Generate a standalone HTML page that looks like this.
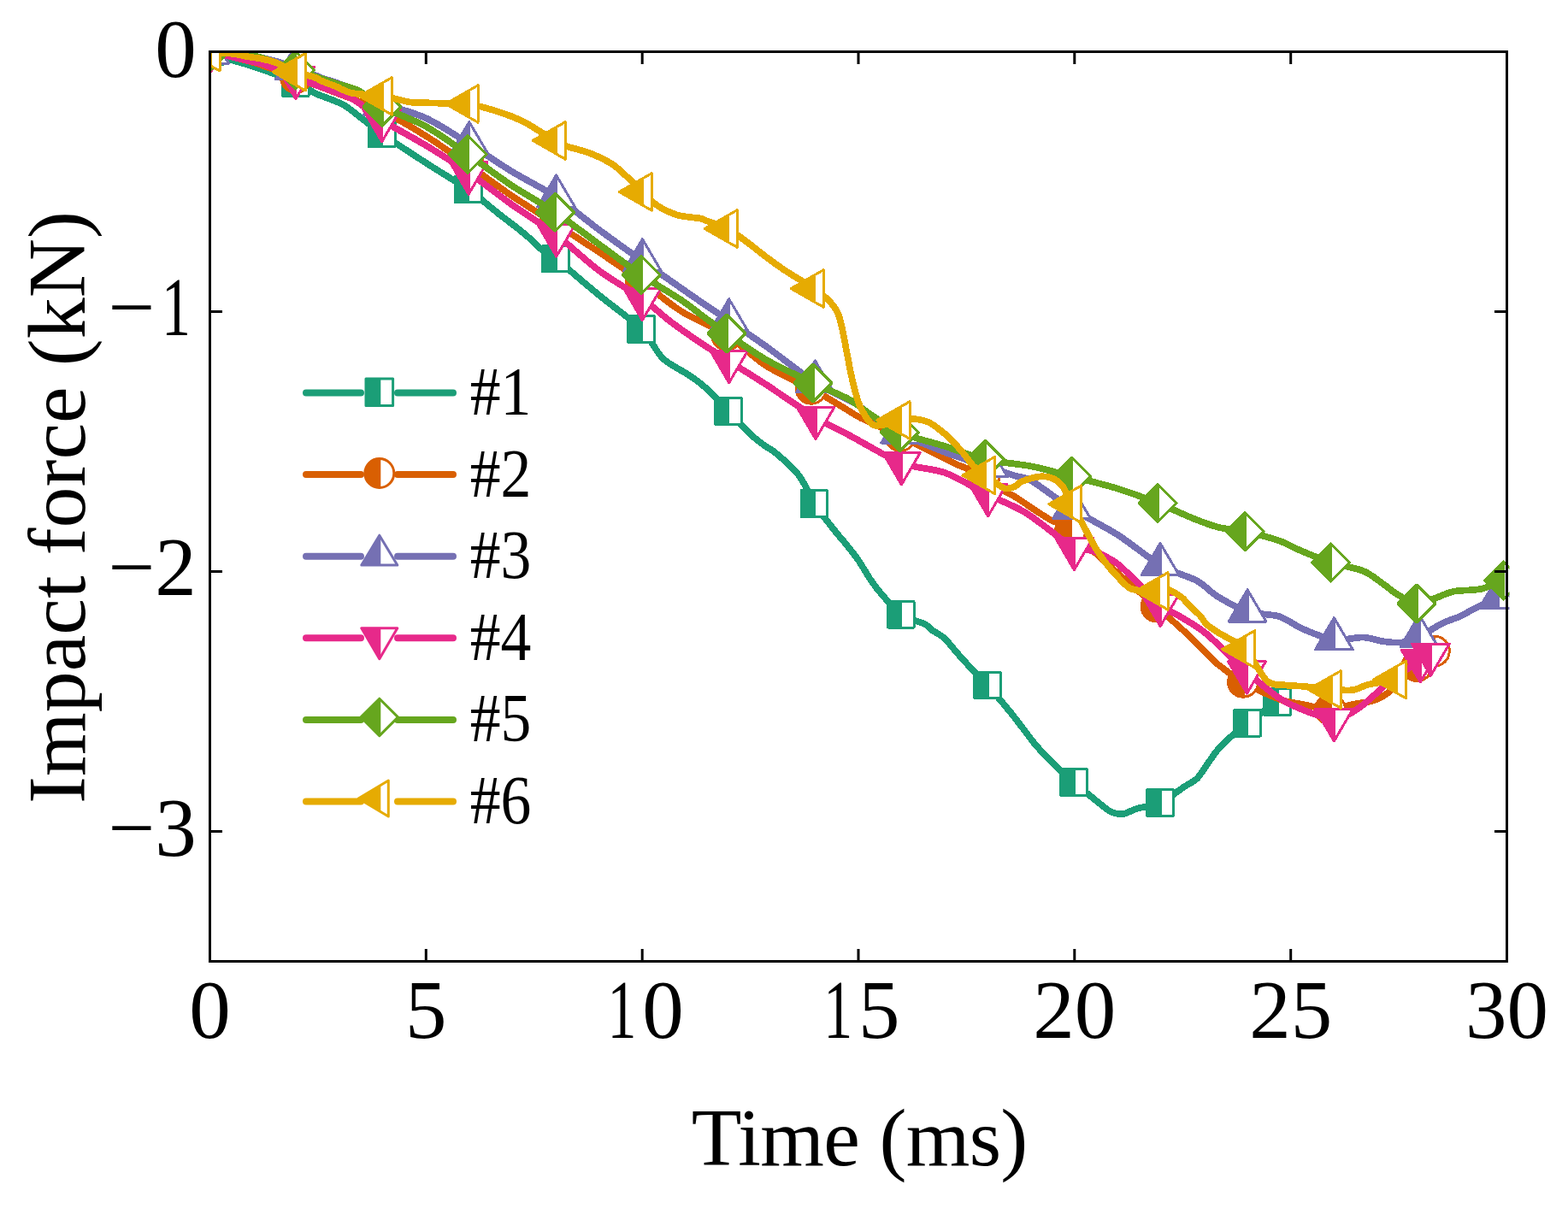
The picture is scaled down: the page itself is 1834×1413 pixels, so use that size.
<!DOCTYPE html><html><head><meta charset="utf-8"><title>Impact force vs time</title><style>html,body{margin:0;padding:0;background:#fff;}svg{display:block;}text{font-family:"Liberation Serif","Times New Roman",serif;fill:#000;}</style></head><body>
<svg width="1834" height="1413" viewBox="0 0 1834 1413">
<rect width="1834" height="1413" fill="#fff"/>
<defs><clipPath id="plot"><rect x="245.5" y="60.5" width="1520" height="1064"/></clipPath></defs>
<g clip-path="url(#plot)" shape-rendering="crispEdges">
<path d="M245.5,60.5C248.7,61.8 260.1,66.6 266.8,68.9C273.5,71.2 284.1,73.9 290,75.8C295.9,77.7 301.7,79.7 306.4,81.3C311.1,82.9 315.7,84.4 321.6,86.7C327.5,89 339.7,94 345.9,96.9C352.1,99.8 359.1,104 363,106C366.9,108 367.2,108.6 371.8,110.5C376.4,112.4 388.4,116.6 393.6,118.9C398.8,121.2 398.7,120.1 406.7,125.8C414.7,131.5 433.2,146.9 446.9,156.6C460.6,166.3 483.2,180.8 498.3,190.6C513.4,200.4 537.4,214.7 547.8,221.7C558.2,228.7 562.8,233.4 567.7,237.3C572.6,241.2 576.7,244.7 580.5,247.8C584.3,250.9 589.4,254.7 593.2,257.7C597,260.7 602.2,264.4 606,267.5C609.8,270.6 614.9,274.7 618.7,278.1C622.5,281.5 626.7,286.5 631.4,290.2C636.1,293.9 639.6,294.4 650,302.7C660.4,310.9 685.6,332.9 700.6,345.2C715.6,357.5 738.9,373.9 750.1,385C761.3,396.1 767.1,411.3 775.4,419.3C783.7,427.3 797.8,433.3 805.2,438.4C812.6,443.5 818,446.9 825,453.3C832,459.7 845.3,474 851.9,480.9C858.5,487.8 865.2,495.2 869.2,499.4C873.2,503.6 874.9,505.6 878.4,508.6C881.9,511.6 888.1,516.7 892.2,519.7C896.3,522.7 901.9,525.7 906,528.9C910.1,532.1 915.9,537.3 919.8,540.9C923.7,544.5 928.6,548.9 931.8,552.8C935,556.7 937.9,561.2 941,566.6C944.1,572 947.1,581.1 952.3,589C957.5,596.9 969.8,612.4 975.4,619.5C981,626.6 985.3,631.3 989.6,636.6C993.9,641.9 999.5,648.8 1003.8,655C1008.1,661.2 1013.8,671.5 1018,677.7C1022.2,683.9 1026.7,690 1032.1,696.1C1037.5,702.2 1046.3,713.6 1053.8,718.7C1061.3,723.8 1076.4,727.4 1081.8,730.1C1087.2,732.8 1086.6,734.6 1090,737C1093.4,739.4 1099.9,742.4 1104.2,746.2C1108.5,750 1114.2,757.7 1118.4,762.5C1122.6,767.3 1127,772.2 1132.5,778.1C1138,784 1147.6,793.2 1155,801.5C1162.4,809.8 1175.9,825.9 1182.1,833.4C1188.3,840.9 1192,846.3 1196.3,851.8C1200.6,857.3 1206.2,865.2 1210.5,870.3C1214.8,875.4 1220.4,881.4 1224.7,885.9C1229,890.4 1234.2,895.6 1238.9,900C1243.6,904.4 1248.8,909 1256,915C1263.2,921 1280,935 1286.7,940.3C1293.4,945.6 1296.6,948.6 1300.9,950.3C1305.2,952 1310.9,952.3 1315.1,951.7C1319.3,951.1 1322.9,947.9 1329.2,946C1335.5,944.1 1348.6,942.9 1357.1,939C1365.6,935.1 1379.5,924.1 1385.9,919.8C1392.4,915.5 1395.8,915 1400.1,910.6C1404.4,906.2 1410,896.4 1414.3,890.7C1418.6,885 1421.8,879 1428.5,872.3C1435.2,865.6 1449.1,853.5 1458.9,845.8C1468.7,838.1 1488.7,824.7 1494,821" fill="none" stroke="#1b9e77" stroke-width="7.7" stroke-linejoin="round" stroke-linecap="round"/>
<polygon points="230.2,45.2 260.8,45.2 260.8,75.8 230.2,75.8" fill="#fff"/><clipPath id="m1"><polygon points="230.2,45.2 260.8,45.2 260.8,75.8 230.2,75.8"/></clipPath><rect x="205.5" y="25.5" width="41.5" height="70" fill="#1b9e77" clip-path="url(#m1)"/><polygon points="230.2,45.2 260.8,45.2 260.8,75.8 230.2,75.8" fill="none" stroke="#1b9e77" stroke-width="3" stroke-linejoin="round"/>
<polygon points="330.6,81.7 361.1,81.7 361.1,112.2 330.6,112.2" fill="#fff"/><clipPath id="m2"><polygon points="330.6,81.7 361.1,81.7 361.1,112.2 330.6,112.2"/></clipPath><rect x="305.9" y="61.9" width="41.5" height="70" fill="#1b9e77" clip-path="url(#m2)"/><polygon points="330.6,81.7 361.1,81.7 361.1,112.2 330.6,112.2" fill="none" stroke="#1b9e77" stroke-width="3" stroke-linejoin="round"/>
<polygon points="431.6,141.3 462.1,141.3 462.1,171.8 431.6,171.8" fill="#fff"/><clipPath id="m3"><polygon points="431.6,141.3 462.1,141.3 462.1,171.8 431.6,171.8"/></clipPath><rect x="406.9" y="121.6" width="41.5" height="70" fill="#1b9e77" clip-path="url(#m3)"/><polygon points="431.6,141.3 462.1,141.3 462.1,171.8 431.6,171.8" fill="none" stroke="#1b9e77" stroke-width="3" stroke-linejoin="round"/>
<polygon points="532.5,206.4 563,206.4 563,236.9 532.5,236.9" fill="#fff"/><clipPath id="m4"><polygon points="532.5,206.4 563,206.4 563,236.9 532.5,236.9"/></clipPath><rect x="507.8" y="186.7" width="41.5" height="70" fill="#1b9e77" clip-path="url(#m4)"/><polygon points="532.5,206.4 563,206.4 563,236.9 532.5,236.9" fill="none" stroke="#1b9e77" stroke-width="3" stroke-linejoin="round"/>
<polygon points="634.8,287.4 665.2,287.4 665.2,317.9 634.8,317.9" fill="#fff"/><clipPath id="m5"><polygon points="634.8,287.4 665.2,287.4 665.2,317.9 634.8,317.9"/></clipPath><rect x="610" y="267.7" width="41.5" height="70" fill="#1b9e77" clip-path="url(#m5)"/><polygon points="634.8,287.4 665.2,287.4 665.2,317.9 634.8,317.9" fill="none" stroke="#1b9e77" stroke-width="3" stroke-linejoin="round"/>
<polygon points="734.9,369.8 765.4,369.8 765.4,400.2 734.9,400.2" fill="#fff"/><clipPath id="m6"><polygon points="734.9,369.8 765.4,369.8 765.4,400.2 734.9,400.2"/></clipPath><rect x="710.1" y="350" width="41.5" height="70" fill="#1b9e77" clip-path="url(#m6)"/><polygon points="734.9,369.8 765.4,369.8 765.4,400.2 734.9,400.2" fill="none" stroke="#1b9e77" stroke-width="3" stroke-linejoin="round"/>
<polygon points="836.6,465.6 867.1,465.6 867.1,496.1 836.6,496.1" fill="#fff"/><clipPath id="m7"><polygon points="836.6,465.6 867.1,465.6 867.1,496.1 836.6,496.1"/></clipPath><rect x="811.9" y="445.9" width="41.5" height="70" fill="#1b9e77" clip-path="url(#m7)"/><polygon points="836.6,465.6 867.1,465.6 867.1,496.1 836.6,496.1" fill="none" stroke="#1b9e77" stroke-width="3" stroke-linejoin="round"/>
<polygon points="937,573.8 967.5,573.8 967.5,604.2 937,604.2" fill="#fff"/><clipPath id="m8"><polygon points="937,573.8 967.5,573.8 967.5,604.2 937,604.2"/></clipPath><rect x="912.3" y="554" width="41.5" height="70" fill="#1b9e77" clip-path="url(#m8)"/><polygon points="937,573.8 967.5,573.8 967.5,604.2 937,604.2" fill="none" stroke="#1b9e77" stroke-width="3" stroke-linejoin="round"/>
<polygon points="1038.5,703.5 1069,703.5 1069,734 1038.5,734" fill="#fff"/><clipPath id="m9"><polygon points="1038.5,703.5 1069,703.5 1069,734 1038.5,734"/></clipPath><rect x="1013.8" y="683.7" width="41.5" height="70" fill="#1b9e77" clip-path="url(#m9)"/><polygon points="1038.5,703.5 1069,703.5 1069,734 1038.5,734" fill="none" stroke="#1b9e77" stroke-width="3" stroke-linejoin="round"/>
<polygon points="1139.8,786.2 1170.2,786.2 1170.2,816.8 1139.8,816.8" fill="#fff"/><clipPath id="m10"><polygon points="1139.8,786.2 1170.2,786.2 1170.2,816.8 1139.8,816.8"/></clipPath><rect x="1115" y="766.5" width="41.5" height="70" fill="#1b9e77" clip-path="url(#m10)"/><polygon points="1139.8,786.2 1170.2,786.2 1170.2,816.8 1139.8,816.8" fill="none" stroke="#1b9e77" stroke-width="3" stroke-linejoin="round"/>
<polygon points="1240.8,899.8 1271.2,899.8 1271.2,930.2 1240.8,930.2" fill="#fff"/><clipPath id="m11"><polygon points="1240.8,899.8 1271.2,899.8 1271.2,930.2 1240.8,930.2"/></clipPath><rect x="1216" y="880" width="41.5" height="70" fill="#1b9e77" clip-path="url(#m11)"/><polygon points="1240.8,899.8 1271.2,899.8 1271.2,930.2 1240.8,930.2" fill="none" stroke="#1b9e77" stroke-width="3" stroke-linejoin="round"/>
<polygon points="1341.8,923.8 1372.3,923.8 1372.3,954.2 1341.8,954.2" fill="#fff"/><clipPath id="m12"><polygon points="1341.8,923.8 1372.3,923.8 1372.3,954.2 1341.8,954.2"/></clipPath><rect x="1317.1" y="904" width="41.5" height="70" fill="#1b9e77" clip-path="url(#m12)"/><polygon points="1341.8,923.8 1372.3,923.8 1372.3,954.2 1341.8,954.2" fill="none" stroke="#1b9e77" stroke-width="3" stroke-linejoin="round"/>
<polygon points="1443.7,830.5 1474.2,830.5 1474.2,861 1443.7,861" fill="#fff"/><clipPath id="m13"><polygon points="1443.7,830.5 1474.2,830.5 1474.2,861 1443.7,861"/></clipPath><rect x="1418.9" y="810.8" width="41.5" height="70" fill="#1b9e77" clip-path="url(#m13)"/><polygon points="1443.7,830.5 1474.2,830.5 1474.2,861 1443.7,861" fill="none" stroke="#1b9e77" stroke-width="3" stroke-linejoin="round"/>
<polygon points="1478.8,805.8 1509.2,805.8 1509.2,836.2 1478.8,836.2" fill="#fff"/><clipPath id="m14"><polygon points="1478.8,805.8 1509.2,805.8 1509.2,836.2 1478.8,836.2"/></clipPath><rect x="1454" y="786" width="41.5" height="70" fill="#1b9e77" clip-path="url(#m14)"/><polygon points="1478.8,805.8 1509.2,805.8 1509.2,836.2 1478.8,836.2" fill="none" stroke="#1b9e77" stroke-width="3" stroke-linejoin="round"/>
<path d="M245.5,60.5C253.1,62.4 280.9,68.4 296,73C311.1,77.6 330.9,85.5 346,91C361.1,96.5 381.9,104.2 397,110C412.1,115.8 431.8,122.6 447,130C462.2,137.4 483.2,149.8 498.3,159.2C513.5,168.6 532.9,182.5 548,193C563.1,203.5 584,219.2 599.3,229.5C614.6,239.8 634.8,252.2 650,262C665.2,271.8 685.6,284.8 700.6,294.9C715.6,304.9 735.6,318.6 750,329C764.4,339.4 781.7,354.6 796.7,364C811.7,373.4 835.1,382.4 850,392C864.9,401.6 881.2,418.4 896,427.8C910.8,437.2 935.4,447.5 948.8,454.7C962.2,461.9 976.7,470.9 985.4,476C994.1,481.1 996.6,483.7 1006.7,488.8C1016.8,493.9 1039.2,503.4 1053,510C1066.8,516.6 1088.7,528.1 1098.5,533C1108.3,537.9 1112.7,540.3 1118.1,542.8C1123.5,545.3 1129.9,547.3 1134.8,549.7C1139.7,552.1 1144.8,555.2 1151,559C1157.2,562.8 1170.4,571.6 1176,575C1181.6,578.4 1183.4,578.6 1188.4,581.8C1193.4,584.9 1203.8,592.2 1209.6,596C1215.4,599.8 1220.9,603.5 1227.3,607.3C1233.7,611 1239.9,611.4 1252,621C1264.1,630.6 1292.8,657.7 1307.9,671C1323,684.3 1341.4,699.6 1352.6,709.4C1363.8,719.2 1374.8,729.1 1382.5,736.1C1390.2,743.1 1397.4,750.2 1403.8,756.4C1410.2,762.6 1417.6,771.4 1425.1,777.6C1432.6,783.8 1443.5,791.7 1454.1,797.7C1464.7,803.7 1485.4,813.8 1495.9,817.7C1506.4,821.6 1515.3,822.2 1524.3,824C1533.3,825.8 1547.2,830 1556,830C1564.8,830 1575.4,825.2 1582.9,823.7C1590.4,822.2 1599.8,821.7 1605.8,819.7C1611.8,817.7 1615.2,816.7 1623,810.6C1630.8,804.5 1649.3,786.4 1657.5,779C1665.7,771.6 1674.8,764.2 1677.8,761.6" fill="none" stroke="#d95f02" stroke-width="7.7" stroke-linejoin="round" stroke-linecap="round"/>
<circle cx="245.5" cy="60.5" r="17.5" fill="#fff"/><clipPath id="m15"><circle cx="245.5" cy="60.5" r="17.5"/></clipPath><rect x="205.5" y="25.5" width="41.5" height="70" fill="#d95f02" clip-path="url(#m15)"/><circle cx="245.5" cy="60.5" r="17.5" fill="none" stroke="#d95f02" stroke-width="3" stroke-linejoin="round"/>
<circle cx="346" cy="91" r="17.5" fill="#fff"/><clipPath id="m16"><circle cx="346" cy="91" r="17.5"/></clipPath><rect x="306" y="56" width="41.5" height="70" fill="#d95f02" clip-path="url(#m16)"/><circle cx="346" cy="91" r="17.5" fill="none" stroke="#d95f02" stroke-width="3" stroke-linejoin="round"/>
<circle cx="447" cy="130" r="17.5" fill="#fff"/><clipPath id="m17"><circle cx="447" cy="130" r="17.5"/></clipPath><rect x="407" y="95" width="41.5" height="70" fill="#d95f02" clip-path="url(#m17)"/><circle cx="447" cy="130" r="17.5" fill="none" stroke="#d95f02" stroke-width="3" stroke-linejoin="round"/>
<circle cx="548" cy="193" r="17.5" fill="#fff"/><clipPath id="m18"><circle cx="548" cy="193" r="17.5"/></clipPath><rect x="508" y="158" width="41.5" height="70" fill="#d95f02" clip-path="url(#m18)"/><circle cx="548" cy="193" r="17.5" fill="none" stroke="#d95f02" stroke-width="3" stroke-linejoin="round"/>
<circle cx="649" cy="262" r="17.5" fill="#fff"/><clipPath id="m19"><circle cx="649" cy="262" r="17.5"/></clipPath><rect x="609" y="227" width="41.5" height="70" fill="#d95f02" clip-path="url(#m19)"/><circle cx="649" cy="262" r="17.5" fill="none" stroke="#d95f02" stroke-width="3" stroke-linejoin="round"/>
<circle cx="750" cy="329" r="17.5" fill="#fff"/><clipPath id="m20"><circle cx="750" cy="329" r="17.5"/></clipPath><rect x="710" y="294" width="41.5" height="70" fill="#d95f02" clip-path="url(#m20)"/><circle cx="750" cy="329" r="17.5" fill="none" stroke="#d95f02" stroke-width="3" stroke-linejoin="round"/>
<circle cx="850" cy="392" r="17.5" fill="#fff"/><clipPath id="m21"><circle cx="850" cy="392" r="17.5"/></clipPath><rect x="810" y="357" width="41.5" height="70" fill="#d95f02" clip-path="url(#m21)"/><circle cx="850" cy="392" r="17.5" fill="none" stroke="#d95f02" stroke-width="3" stroke-linejoin="round"/>
<circle cx="948.8" cy="454.7" r="17.5" fill="#fff"/><clipPath id="m22"><circle cx="948.8" cy="454.7" r="17.5"/></clipPath><rect x="908.8" y="419.7" width="41.5" height="70" fill="#d95f02" clip-path="url(#m22)"/><circle cx="948.8" cy="454.7" r="17.5" fill="none" stroke="#d95f02" stroke-width="3" stroke-linejoin="round"/>
<circle cx="1053" cy="510" r="17.5" fill="#fff"/><clipPath id="m23"><circle cx="1053" cy="510" r="17.5"/></clipPath><rect x="1013" y="475" width="41.5" height="70" fill="#d95f02" clip-path="url(#m23)"/><circle cx="1053" cy="510" r="17.5" fill="none" stroke="#d95f02" stroke-width="3" stroke-linejoin="round"/>
<circle cx="1151" cy="559" r="17.5" fill="#fff"/><clipPath id="m24"><circle cx="1151" cy="559" r="17.5"/></clipPath><rect x="1111" y="524" width="41.5" height="70" fill="#d95f02" clip-path="url(#m24)"/><circle cx="1151" cy="559" r="17.5" fill="none" stroke="#d95f02" stroke-width="3" stroke-linejoin="round"/>
<circle cx="1252" cy="621" r="17.5" fill="#fff"/><clipPath id="m25"><circle cx="1252" cy="621" r="17.5"/></clipPath><rect x="1212" y="586" width="41.5" height="70" fill="#d95f02" clip-path="url(#m25)"/><circle cx="1252" cy="621" r="17.5" fill="none" stroke="#d95f02" stroke-width="3" stroke-linejoin="round"/>
<circle cx="1352.6" cy="709.4" r="17.5" fill="#fff"/><clipPath id="m26"><circle cx="1352.6" cy="709.4" r="17.5"/></clipPath><rect x="1312.6" y="674.4" width="41.5" height="70" fill="#d95f02" clip-path="url(#m26)"/><circle cx="1352.6" cy="709.4" r="17.5" fill="none" stroke="#d95f02" stroke-width="3" stroke-linejoin="round"/>
<circle cx="1454.1" cy="797.7" r="17.5" fill="#fff"/><clipPath id="m27"><circle cx="1454.1" cy="797.7" r="17.5"/></clipPath><rect x="1414.1" y="762.7" width="41.5" height="70" fill="#d95f02" clip-path="url(#m27)"/><circle cx="1454.1" cy="797.7" r="17.5" fill="none" stroke="#d95f02" stroke-width="3" stroke-linejoin="round"/>
<circle cx="1556" cy="830" r="17.5" fill="#fff"/><clipPath id="m28"><circle cx="1556" cy="830" r="17.5"/></clipPath><rect x="1516" y="795" width="41.5" height="70" fill="#d95f02" clip-path="url(#m28)"/><circle cx="1556" cy="830" r="17.5" fill="none" stroke="#d95f02" stroke-width="3" stroke-linejoin="round"/>
<circle cx="1657.5" cy="779" r="17.5" fill="#fff"/><clipPath id="m29"><circle cx="1657.5" cy="779" r="17.5"/></clipPath><rect x="1617.5" y="744" width="41.5" height="70" fill="#d95f02" clip-path="url(#m29)"/><circle cx="1657.5" cy="779" r="17.5" fill="none" stroke="#d95f02" stroke-width="3" stroke-linejoin="round"/>
<circle cx="1677.8" cy="761.6" r="17.5" fill="#fff"/><clipPath id="m30"><circle cx="1677.8" cy="761.6" r="17.5"/></clipPath><rect x="1637.8" y="726.6" width="41.5" height="70" fill="#d95f02" clip-path="url(#m30)"/><circle cx="1677.8" cy="761.6" r="17.5" fill="none" stroke="#d95f02" stroke-width="3" stroke-linejoin="round"/>
<path d="M245.5,60.5C253.7,61.4 287,64.4 300,66.5C313,68.6 325.3,72.3 332,74.5C338.7,76.7 339,79 344.5,81C350,83 363.7,86.5 368.5,88C373.3,89.5 372.4,89.9 376.2,91.2C380,92.5 387.1,94.6 393.6,96.9C400.1,99.2 415,104.3 419.8,106.5C424.6,108.7 421.7,109.1 425.8,111.3C429.9,113.5 436.1,117 447,121C457.9,125 483,131.1 498.3,138.2C513.6,145.3 533.6,158.8 548.8,168.2C563.9,177.6 584,191.7 599.3,201C614.6,210.3 635.4,220.3 650.6,230.5C665.8,240.7 685.5,257.5 700.6,268.7C715.7,279.9 734.9,293.6 751.4,305.3C767.9,317 795.7,336.5 810.9,347C826.1,357.5 839.9,366.6 852.7,375.3C865.5,384 880.9,394.3 896,405.1C911.1,415.9 937.8,437.4 953.4,447.4C969,457.4 989.9,465.9 1000,471.8C1010.1,477.7 1013,481.8 1020.9,487C1028.8,492.2 1040.1,500.2 1052.7,506.5C1065.3,512.8 1089.6,522.9 1105.2,528.9C1120.8,534.9 1144.3,542.3 1156.5,546.4C1168.7,550.5 1179.3,554 1186.8,556.4C1194.3,558.8 1196.3,556.6 1206.3,562.4C1216.3,568.2 1238.4,585.5 1253.6,595C1268.8,604.5 1292.4,616.1 1307.9,626C1323.4,635.9 1343.8,653.2 1357.1,661C1370.4,668.8 1389,674.1 1396.7,677.7C1404.4,681.3 1404.2,682.2 1408.5,685.3C1412.8,688.4 1417.5,693.8 1425.1,698.3C1432.7,702.8 1448.5,712.1 1459.1,715.5C1469.7,718.9 1486.1,717.9 1495.9,721C1505.7,724.1 1514.6,731.8 1524.3,735.9C1534,740 1549.9,746.9 1560.4,748.3C1570.9,749.7 1585.9,745.2 1594.4,745.5C1602.9,745.8 1610.4,749.3 1617.3,750.2C1624.2,751.1 1633.8,752.2 1640.2,751.4C1646.6,750.6 1653.1,748.3 1660,745C1666.9,741.7 1678.7,733.3 1686,729.6C1693.3,725.9 1703,723.2 1708.9,720.5C1714.8,717.8 1719,714.4 1725.5,711.3C1732,708.2 1748.3,701.4 1752.3,699.6" fill="none" stroke="#7570b3" stroke-width="7.7" stroke-linejoin="round" stroke-linecap="round"/>
<polygon points="245.5,37.1 267.4,74.2 223.6,74.2" fill="#fff"/><clipPath id="m31"><polygon points="245.5,37.1 267.4,74.2 223.6,74.2"/></clipPath><rect x="205.5" y="27.7" width="41.5" height="70" fill="#7570b3" clip-path="url(#m31)"/><polygon points="245.5,37.1 267.4,74.2 223.6,74.2" fill="none" stroke="#7570b3" stroke-width="3" stroke-linejoin="round"/>
<polygon points="344.5,55.4 366.4,92.5 322.6,92.5" fill="#fff"/><clipPath id="m32"><polygon points="344.5,55.4 366.4,92.5 322.6,92.5"/></clipPath><rect x="304.5" y="46" width="41.5" height="70" fill="#7570b3" clip-path="url(#m32)"/><polygon points="344.5,55.4 366.4,92.5 322.6,92.5" fill="none" stroke="#7570b3" stroke-width="3" stroke-linejoin="round"/>
<polygon points="447,97.4 468.9,134.5 425.1,134.5" fill="#fff"/><clipPath id="m33"><polygon points="447,97.4 468.9,134.5 425.1,134.5"/></clipPath><rect x="407" y="88" width="41.5" height="70" fill="#7570b3" clip-path="url(#m33)"/><polygon points="447,97.4 468.9,134.5 425.1,134.5" fill="none" stroke="#7570b3" stroke-width="3" stroke-linejoin="round"/>
<polygon points="548.8,142.6 570.7,179.7 526.9,179.7" fill="#fff"/><clipPath id="m34"><polygon points="548.8,142.6 570.7,179.7 526.9,179.7"/></clipPath><rect x="508.8" y="133.2" width="41.5" height="70" fill="#7570b3" clip-path="url(#m34)"/><polygon points="548.8,142.6 570.7,179.7 526.9,179.7" fill="none" stroke="#7570b3" stroke-width="3" stroke-linejoin="round"/>
<polygon points="650.6,204.9 672.5,242 628.7,242" fill="#fff"/><clipPath id="m35"><polygon points="650.6,204.9 672.5,242 628.7,242"/></clipPath><rect x="610.6" y="195.5" width="41.5" height="70" fill="#7570b3" clip-path="url(#m35)"/><polygon points="650.6,204.9 672.5,242 628.7,242" fill="none" stroke="#7570b3" stroke-width="3" stroke-linejoin="round"/>
<polygon points="751.4,279.7 773.3,316.8 729.5,316.8" fill="#fff"/><clipPath id="m36"><polygon points="751.4,279.7 773.3,316.8 729.5,316.8"/></clipPath><rect x="711.4" y="270.3" width="41.5" height="70" fill="#7570b3" clip-path="url(#m36)"/><polygon points="751.4,279.7 773.3,316.8 729.5,316.8" fill="none" stroke="#7570b3" stroke-width="3" stroke-linejoin="round"/>
<polygon points="852.7,349.7 874.6,386.8 830.8,386.8" fill="#fff"/><clipPath id="m37"><polygon points="852.7,349.7 874.6,386.8 830.8,386.8"/></clipPath><rect x="812.7" y="340.3" width="41.5" height="70" fill="#7570b3" clip-path="url(#m37)"/><polygon points="852.7,349.7 874.6,386.8 830.8,386.8" fill="none" stroke="#7570b3" stroke-width="3" stroke-linejoin="round"/>
<polygon points="953.4,421.8 975.3,458.9 931.5,458.9" fill="#fff"/><clipPath id="m38"><polygon points="953.4,421.8 975.3,458.9 931.5,458.9"/></clipPath><rect x="913.4" y="412.4" width="41.5" height="70" fill="#7570b3" clip-path="url(#m38)"/><polygon points="953.4,421.8 975.3,458.9 931.5,458.9" fill="none" stroke="#7570b3" stroke-width="3" stroke-linejoin="round"/>
<polygon points="1052.7,480.9 1074.6,518 1030.8,518" fill="#fff"/><clipPath id="m39"><polygon points="1052.7,480.9 1074.6,518 1030.8,518"/></clipPath><rect x="1012.7" y="471.5" width="41.5" height="70" fill="#7570b3" clip-path="url(#m39)"/><polygon points="1052.7,480.9 1074.6,518 1030.8,518" fill="none" stroke="#7570b3" stroke-width="3" stroke-linejoin="round"/>
<polygon points="1156.5,520.8 1178.4,557.9 1134.6,557.9" fill="#fff"/><clipPath id="m40"><polygon points="1156.5,520.8 1178.4,557.9 1134.6,557.9"/></clipPath><rect x="1116.5" y="511.4" width="41.5" height="70" fill="#7570b3" clip-path="url(#m40)"/><polygon points="1156.5,520.8 1178.4,557.9 1134.6,557.9" fill="none" stroke="#7570b3" stroke-width="3" stroke-linejoin="round"/>
<polygon points="1253.6,569.4 1275.5,606.5 1231.7,606.5" fill="#fff"/><clipPath id="m41"><polygon points="1253.6,569.4 1275.5,606.5 1231.7,606.5"/></clipPath><rect x="1213.6" y="560" width="41.5" height="70" fill="#7570b3" clip-path="url(#m41)"/><polygon points="1253.6,569.4 1275.5,606.5 1231.7,606.5" fill="none" stroke="#7570b3" stroke-width="3" stroke-linejoin="round"/>
<polygon points="1357.1,635.4 1379,672.5 1335.2,672.5" fill="#fff"/><clipPath id="m42"><polygon points="1357.1,635.4 1379,672.5 1335.2,672.5"/></clipPath><rect x="1317.1" y="626" width="41.5" height="70" fill="#7570b3" clip-path="url(#m42)"/><polygon points="1357.1,635.4 1379,672.5 1335.2,672.5" fill="none" stroke="#7570b3" stroke-width="3" stroke-linejoin="round"/>
<polygon points="1459.1,689.9 1481,727 1437.2,727" fill="#fff"/><clipPath id="m43"><polygon points="1459.1,689.9 1481,727 1437.2,727"/></clipPath><rect x="1419.1" y="680.5" width="41.5" height="70" fill="#7570b3" clip-path="url(#m43)"/><polygon points="1459.1,689.9 1481,727 1437.2,727" fill="none" stroke="#7570b3" stroke-width="3" stroke-linejoin="round"/>
<polygon points="1560.4,722.7 1582.3,759.8 1538.5,759.8" fill="#fff"/><clipPath id="m44"><polygon points="1560.4,722.7 1582.3,759.8 1538.5,759.8"/></clipPath><rect x="1520.4" y="713.3" width="41.5" height="70" fill="#7570b3" clip-path="url(#m44)"/><polygon points="1560.4,722.7 1582.3,759.8 1538.5,759.8" fill="none" stroke="#7570b3" stroke-width="3" stroke-linejoin="round"/>
<polygon points="1660,719.4 1681.9,756.5 1638.1,756.5" fill="#fff"/><clipPath id="m45"><polygon points="1660,719.4 1681.9,756.5 1638.1,756.5"/></clipPath><rect x="1620" y="710" width="41.5" height="70" fill="#7570b3" clip-path="url(#m45)"/><polygon points="1660,719.4 1681.9,756.5 1638.1,756.5" fill="none" stroke="#7570b3" stroke-width="3" stroke-linejoin="round"/>
<polygon points="1752.3,674 1774.2,711.1 1730.4,711.1" fill="#fff"/><clipPath id="m46"><polygon points="1752.3,674 1774.2,711.1 1730.4,711.1"/></clipPath><rect x="1712.3" y="664.6" width="41.5" height="70" fill="#7570b3" clip-path="url(#m46)"/><polygon points="1752.3,674 1774.2,711.1 1730.4,711.1" fill="none" stroke="#7570b3" stroke-width="3" stroke-linejoin="round"/>
<path d="M245.5,60.5C252.2,62.1 280.9,68.9 290,71C299.1,73.1 302.1,73.5 306.4,74.7C310.7,75.9 312.5,76.7 318.4,79.1C324.3,81.5 334.6,86.2 345.9,90.6C357.2,95 383.2,104.4 393.6,108.4C404,112.4 407.4,112.7 415.4,117.5C423.4,122.3 434.3,132.6 446.7,140.5C459.1,148.4 483.1,161 498.3,170.2C513.5,179.4 533,191.6 548.1,202C563.2,212.4 583.9,228.9 599.3,239.8C614.7,250.7 635.6,263.4 650.8,274.9C666,286.4 685.5,305.3 700.6,316.5C715.7,327.7 739,340.7 751.3,349.4C763.6,358.1 773.6,367.9 782.5,374.8C791.4,381.7 800.4,388 810.9,395.2C821.4,402.4 839.9,414.3 852.7,422.5C865.5,430.7 880.8,439.9 896,449.8C911.2,459.7 939.1,479.4 954,488.4C968.9,497.4 979.9,502 995,510C1010.1,518 1037.9,535.2 1054.4,541.7C1070.9,548.2 1090,547.5 1105.2,553C1120.4,558.5 1141.4,571.7 1155.6,578.7C1169.8,585.8 1184.9,590.6 1200,600C1215.1,609.4 1245.9,635 1256.4,641.4C1266.9,647.8 1266.4,642.1 1270,642.7C1273.6,643.3 1276.8,644 1280.2,645.2C1283.6,646.4 1288.5,648.5 1292.7,650.8C1296.9,653 1303.2,656.5 1307.9,660.2C1312.6,663.9 1316.7,668.2 1324.1,675.3C1331.5,682.4 1348.4,700.2 1357.2,707.3C1366,714.4 1374.4,717.4 1382.5,722.5C1390.6,727.6 1399.5,731.8 1410.9,741.3C1422.3,750.8 1445.8,774.8 1458.5,786C1471.2,797.2 1486,809.5 1495.9,816.2C1505.8,822.9 1514.6,826.6 1524.3,830.4C1534,834.2 1552.5,840.9 1560.4,841.7C1568.3,842.5 1572.1,838.4 1577.2,835.8C1582.3,833.2 1589.3,828.3 1594.4,824.3C1599.5,820.3 1606.4,813.9 1611.5,809.4C1616.6,804.9 1621.2,800 1628.7,794.5C1636.2,789 1654.6,777.1 1661.3,772.7C1668,768.3 1671.6,766.3 1673.4,765.2" fill="none" stroke="#e7298a" stroke-width="7.7" stroke-linejoin="round" stroke-linecap="round"/>
<polygon points="245.5,85.7 223.6,48.3 267.4,48.3" fill="#fff"/><clipPath id="m47"><polygon points="245.5,85.7 223.6,48.3 267.4,48.3"/></clipPath><rect x="205.5" y="25.5" width="41.5" height="70" fill="#e7298a" clip-path="url(#m47)"/><polygon points="245.5,85.7 223.6,48.3 267.4,48.3" fill="none" stroke="#e7298a" stroke-width="3" stroke-linejoin="round"/>
<polygon points="345.9,115.8 324,78.4 367.8,78.4" fill="#fff"/><clipPath id="m48"><polygon points="345.9,115.8 324,78.4 367.8,78.4"/></clipPath><rect x="305.9" y="55.6" width="41.5" height="70" fill="#e7298a" clip-path="url(#m48)"/><polygon points="345.9,115.8 324,78.4 367.8,78.4" fill="none" stroke="#e7298a" stroke-width="3" stroke-linejoin="round"/>
<polygon points="446.7,165.7 424.8,128.3 468.6,128.3" fill="#fff"/><clipPath id="m49"><polygon points="446.7,165.7 424.8,128.3 468.6,128.3"/></clipPath><rect x="406.7" y="105.5" width="41.5" height="70" fill="#e7298a" clip-path="url(#m49)"/><polygon points="446.7,165.7 424.8,128.3 468.6,128.3" fill="none" stroke="#e7298a" stroke-width="3" stroke-linejoin="round"/>
<polygon points="548.1,227.2 526.2,189.8 570,189.8" fill="#fff"/><clipPath id="m50"><polygon points="548.1,227.2 526.2,189.8 570,189.8"/></clipPath><rect x="508.1" y="167" width="41.5" height="70" fill="#e7298a" clip-path="url(#m50)"/><polygon points="548.1,227.2 526.2,189.8 570,189.8" fill="none" stroke="#e7298a" stroke-width="3" stroke-linejoin="round"/>
<polygon points="650.8,300.1 628.9,262.7 672.7,262.7" fill="#fff"/><clipPath id="m51"><polygon points="650.8,300.1 628.9,262.7 672.7,262.7"/></clipPath><rect x="610.8" y="239.9" width="41.5" height="70" fill="#e7298a" clip-path="url(#m51)"/><polygon points="650.8,300.1 628.9,262.7 672.7,262.7" fill="none" stroke="#e7298a" stroke-width="3" stroke-linejoin="round"/>
<polygon points="751.3,374.6 729.4,337.2 773.2,337.2" fill="#fff"/><clipPath id="m52"><polygon points="751.3,374.6 729.4,337.2 773.2,337.2"/></clipPath><rect x="711.3" y="314.4" width="41.5" height="70" fill="#e7298a" clip-path="url(#m52)"/><polygon points="751.3,374.6 729.4,337.2 773.2,337.2" fill="none" stroke="#e7298a" stroke-width="3" stroke-linejoin="round"/>
<polygon points="852.7,447.7 830.8,410.3 874.6,410.3" fill="#fff"/><clipPath id="m53"><polygon points="852.7,447.7 830.8,410.3 874.6,410.3"/></clipPath><rect x="812.7" y="387.5" width="41.5" height="70" fill="#e7298a" clip-path="url(#m53)"/><polygon points="852.7,447.7 830.8,410.3 874.6,410.3" fill="none" stroke="#e7298a" stroke-width="3" stroke-linejoin="round"/>
<polygon points="954,513.6 932.1,476.2 975.9,476.2" fill="#fff"/><clipPath id="m54"><polygon points="954,513.6 932.1,476.2 975.9,476.2"/></clipPath><rect x="914" y="453.4" width="41.5" height="70" fill="#e7298a" clip-path="url(#m54)"/><polygon points="954,513.6 932.1,476.2 975.9,476.2" fill="none" stroke="#e7298a" stroke-width="3" stroke-linejoin="round"/>
<polygon points="1054.4,566.9 1032.5,529.5 1076.3,529.5" fill="#fff"/><clipPath id="m55"><polygon points="1054.4,566.9 1032.5,529.5 1076.3,529.5"/></clipPath><rect x="1014.4" y="506.7" width="41.5" height="70" fill="#e7298a" clip-path="url(#m55)"/><polygon points="1054.4,566.9 1032.5,529.5 1076.3,529.5" fill="none" stroke="#e7298a" stroke-width="3" stroke-linejoin="round"/>
<polygon points="1155.6,603.9 1133.7,566.5 1177.5,566.5" fill="#fff"/><clipPath id="m56"><polygon points="1155.6,603.9 1133.7,566.5 1177.5,566.5"/></clipPath><rect x="1115.6" y="543.7" width="41.5" height="70" fill="#e7298a" clip-path="url(#m56)"/><polygon points="1155.6,603.9 1133.7,566.5 1177.5,566.5" fill="none" stroke="#e7298a" stroke-width="3" stroke-linejoin="round"/>
<polygon points="1256.4,666.6 1234.5,629.2 1278.3,629.2" fill="#fff"/><clipPath id="m57"><polygon points="1256.4,666.6 1234.5,629.2 1278.3,629.2"/></clipPath><rect x="1216.4" y="606.4" width="41.5" height="70" fill="#e7298a" clip-path="url(#m57)"/><polygon points="1256.4,666.6 1234.5,629.2 1278.3,629.2" fill="none" stroke="#e7298a" stroke-width="3" stroke-linejoin="round"/>
<polygon points="1357.2,732.5 1335.3,695.1 1379.1,695.1" fill="#fff"/><clipPath id="m58"><polygon points="1357.2,732.5 1335.3,695.1 1379.1,695.1"/></clipPath><rect x="1317.2" y="672.3" width="41.5" height="70" fill="#e7298a" clip-path="url(#m58)"/><polygon points="1357.2,732.5 1335.3,695.1 1379.1,695.1" fill="none" stroke="#e7298a" stroke-width="3" stroke-linejoin="round"/>
<polygon points="1458.5,811.2 1436.6,773.8 1480.4,773.8" fill="#fff"/><clipPath id="m59"><polygon points="1458.5,811.2 1436.6,773.8 1480.4,773.8"/></clipPath><rect x="1418.5" y="751" width="41.5" height="70" fill="#e7298a" clip-path="url(#m59)"/><polygon points="1458.5,811.2 1436.6,773.8 1480.4,773.8" fill="none" stroke="#e7298a" stroke-width="3" stroke-linejoin="round"/>
<polygon points="1560.4,866.9 1538.5,829.5 1582.3,829.5" fill="#fff"/><clipPath id="m60"><polygon points="1560.4,866.9 1538.5,829.5 1582.3,829.5"/></clipPath><rect x="1520.4" y="806.7" width="41.5" height="70" fill="#e7298a" clip-path="url(#m60)"/><polygon points="1560.4,866.9 1538.5,829.5 1582.3,829.5" fill="none" stroke="#e7298a" stroke-width="3" stroke-linejoin="round"/>
<polygon points="1661.3,797.9 1639.4,760.5 1683.2,760.5" fill="#fff"/><clipPath id="m61"><polygon points="1661.3,797.9 1639.4,760.5 1683.2,760.5"/></clipPath><rect x="1621.3" y="737.7" width="41.5" height="70" fill="#e7298a" clip-path="url(#m61)"/><polygon points="1661.3,797.9 1639.4,760.5 1683.2,760.5" fill="none" stroke="#e7298a" stroke-width="3" stroke-linejoin="round"/>
<polygon points="1673.4,790.4 1651.5,753 1695.3,753" fill="#fff"/><clipPath id="m62"><polygon points="1673.4,790.4 1651.5,753 1695.3,753"/></clipPath><rect x="1633.4" y="730.2" width="41.5" height="70" fill="#e7298a" clip-path="url(#m62)"/><polygon points="1673.4,790.4 1651.5,753 1695.3,753" fill="none" stroke="#e7298a" stroke-width="3" stroke-linejoin="round"/>
<path d="M245.5,60.5C253.7,61.3 285,62.8 300,66C315,69.2 334.1,78.1 345.5,82C356.9,85.9 369,89.6 376.2,92C383.4,94.4 388.4,96.2 393.6,97.8C398.8,99.4 406.7,101.3 411,102.8C415.3,104.3 416.6,104.2 422,107.5C427.4,110.8 435.6,119 447,125.1C458.4,131.2 483.3,139.7 498.3,148C513.3,156.3 532,170.1 547.1,180.5C562.2,190.9 583.9,207.3 599.3,217.5C614.7,227.7 634.3,238.2 649.5,248.4C664.7,258.6 685.5,274.7 700.6,285.7C715.7,296.7 735.8,311.9 750.2,321.7C764.6,331.5 785.5,343.4 796.7,350.9C807.9,358.4 817,366.1 825,372C833,377.9 839.4,382.7 850,390C860.6,397.3 880.9,412 896,420.7C911.1,429.4 936.5,441.1 951,448C965.5,454.9 983.1,461.7 992.5,466.8C1001.9,471.9 1004.8,475.8 1013.8,481.7C1022.8,487.6 1038.5,499.8 1052.2,505.8C1065.9,511.8 1090.2,517.2 1105.2,522C1120.2,526.8 1137.3,534 1152.5,537.5C1167.7,541 1191.1,542.4 1206.3,545.4C1221.5,548.4 1238.5,553.5 1253.7,557.4C1268.9,561.3 1292.2,566.9 1307.3,571.6C1322.4,576.3 1340.9,583.2 1354.3,588.5C1367.7,593.8 1386.1,602.7 1396.7,606.9C1407.3,611.1 1416.2,614.6 1425.1,616.8C1434,619 1445.7,619.4 1456.3,621.7C1466.9,624 1486.8,629.3 1495.9,632.4C1505,635.5 1508.1,638.5 1517.2,642.3C1526.3,646.1 1544.7,654.2 1556.3,658C1567.9,661.8 1585.2,664.1 1594.4,667.8C1603.6,671.5 1611.3,678.6 1617.3,682.7C1623.3,686.8 1628.4,691.8 1634.4,695.3C1640.4,698.8 1650.6,705.2 1657,706C1663.4,706.8 1670.3,702.5 1676.8,700.4C1683.3,698.3 1692,693.5 1700.3,691.8C1708.5,690.1 1723.1,690.9 1731.8,689C1740.5,687.1 1754.4,680.5 1758.4,679" fill="none" stroke="#66a61e" stroke-width="7.7" stroke-linejoin="round" stroke-linecap="round"/>
<polygon points="245.5,38.5 267.5,60.5 245.5,82.5 223.5,60.5" fill="#fff"/><clipPath id="m63"><polygon points="245.5,38.5 267.5,60.5 245.5,82.5 223.5,60.5"/></clipPath><rect x="205.5" y="25.5" width="41.5" height="70" fill="#66a61e" clip-path="url(#m63)"/><polygon points="245.5,38.5 267.5,60.5 245.5,82.5 223.5,60.5" fill="none" stroke="#66a61e" stroke-width="3" stroke-linejoin="round"/>
<polygon points="345.5,60 367.5,82 345.5,104 323.5,82" fill="#fff"/><clipPath id="m64"><polygon points="345.5,60 367.5,82 345.5,104 323.5,82"/></clipPath><rect x="305.5" y="47" width="41.5" height="70" fill="#66a61e" clip-path="url(#m64)"/><polygon points="345.5,60 367.5,82 345.5,104 323.5,82" fill="none" stroke="#66a61e" stroke-width="3" stroke-linejoin="round"/>
<polygon points="447,103.1 469,125.1 447,147.1 425,125.1" fill="#fff"/><clipPath id="m65"><polygon points="447,103.1 469,125.1 447,147.1 425,125.1"/></clipPath><rect x="407" y="90.1" width="41.5" height="70" fill="#66a61e" clip-path="url(#m65)"/><polygon points="447,103.1 469,125.1 447,147.1 425,125.1" fill="none" stroke="#66a61e" stroke-width="3" stroke-linejoin="round"/>
<polygon points="547.1,158.5 569.1,180.5 547.1,202.5 525.1,180.5" fill="#fff"/><clipPath id="m66"><polygon points="547.1,158.5 569.1,180.5 547.1,202.5 525.1,180.5"/></clipPath><rect x="507.1" y="145.5" width="41.5" height="70" fill="#66a61e" clip-path="url(#m66)"/><polygon points="547.1,158.5 569.1,180.5 547.1,202.5 525.1,180.5" fill="none" stroke="#66a61e" stroke-width="3" stroke-linejoin="round"/>
<polygon points="649.5,226.4 671.5,248.4 649.5,270.4 627.5,248.4" fill="#fff"/><clipPath id="m67"><polygon points="649.5,226.4 671.5,248.4 649.5,270.4 627.5,248.4"/></clipPath><rect x="609.5" y="213.4" width="41.5" height="70" fill="#66a61e" clip-path="url(#m67)"/><polygon points="649.5,226.4 671.5,248.4 649.5,270.4 627.5,248.4" fill="none" stroke="#66a61e" stroke-width="3" stroke-linejoin="round"/>
<polygon points="750.2,299.7 772.2,321.7 750.2,343.7 728.2,321.7" fill="#fff"/><clipPath id="m68"><polygon points="750.2,299.7 772.2,321.7 750.2,343.7 728.2,321.7"/></clipPath><rect x="710.2" y="286.7" width="41.5" height="70" fill="#66a61e" clip-path="url(#m68)"/><polygon points="750.2,299.7 772.2,321.7 750.2,343.7 728.2,321.7" fill="none" stroke="#66a61e" stroke-width="3" stroke-linejoin="round"/>
<polygon points="850,368 872,390 850,412 828,390" fill="#fff"/><clipPath id="m69"><polygon points="850,368 872,390 850,412 828,390"/></clipPath><rect x="810" y="355" width="41.5" height="70" fill="#66a61e" clip-path="url(#m69)"/><polygon points="850,368 872,390 850,412 828,390" fill="none" stroke="#66a61e" stroke-width="3" stroke-linejoin="round"/>
<polygon points="951,426 973,448 951,470 929,448" fill="#fff"/><clipPath id="m70"><polygon points="951,426 973,448 951,470 929,448"/></clipPath><rect x="911" y="413" width="41.5" height="70" fill="#66a61e" clip-path="url(#m70)"/><polygon points="951,426 973,448 951,470 929,448" fill="none" stroke="#66a61e" stroke-width="3" stroke-linejoin="round"/>
<polygon points="1052.2,483.8 1074.2,505.8 1052.2,527.8 1030.2,505.8" fill="#fff"/><clipPath id="m71"><polygon points="1052.2,483.8 1074.2,505.8 1052.2,527.8 1030.2,505.8"/></clipPath><rect x="1012.2" y="470.8" width="41.5" height="70" fill="#66a61e" clip-path="url(#m71)"/><polygon points="1052.2,483.8 1074.2,505.8 1052.2,527.8 1030.2,505.8" fill="none" stroke="#66a61e" stroke-width="3" stroke-linejoin="round"/>
<polygon points="1152.5,515.5 1174.5,537.5 1152.5,559.5 1130.5,537.5" fill="#fff"/><clipPath id="m72"><polygon points="1152.5,515.5 1174.5,537.5 1152.5,559.5 1130.5,537.5"/></clipPath><rect x="1112.5" y="502.5" width="41.5" height="70" fill="#66a61e" clip-path="url(#m72)"/><polygon points="1152.5,515.5 1174.5,537.5 1152.5,559.5 1130.5,537.5" fill="none" stroke="#66a61e" stroke-width="3" stroke-linejoin="round"/>
<polygon points="1253.7,535.4 1275.7,557.4 1253.7,579.4 1231.7,557.4" fill="#fff"/><clipPath id="m73"><polygon points="1253.7,535.4 1275.7,557.4 1253.7,579.4 1231.7,557.4"/></clipPath><rect x="1213.7" y="522.4" width="41.5" height="70" fill="#66a61e" clip-path="url(#m73)"/><polygon points="1253.7,535.4 1275.7,557.4 1253.7,579.4 1231.7,557.4" fill="none" stroke="#66a61e" stroke-width="3" stroke-linejoin="round"/>
<polygon points="1354.3,566.5 1376.3,588.5 1354.3,610.5 1332.3,588.5" fill="#fff"/><clipPath id="m74"><polygon points="1354.3,566.5 1376.3,588.5 1354.3,610.5 1332.3,588.5"/></clipPath><rect x="1314.3" y="553.5" width="41.5" height="70" fill="#66a61e" clip-path="url(#m74)"/><polygon points="1354.3,566.5 1376.3,588.5 1354.3,610.5 1332.3,588.5" fill="none" stroke="#66a61e" stroke-width="3" stroke-linejoin="round"/>
<polygon points="1456.3,599.7 1478.3,621.7 1456.3,643.7 1434.3,621.7" fill="#fff"/><clipPath id="m75"><polygon points="1456.3,599.7 1478.3,621.7 1456.3,643.7 1434.3,621.7"/></clipPath><rect x="1416.3" y="586.7" width="41.5" height="70" fill="#66a61e" clip-path="url(#m75)"/><polygon points="1456.3,599.7 1478.3,621.7 1456.3,643.7 1434.3,621.7" fill="none" stroke="#66a61e" stroke-width="3" stroke-linejoin="round"/>
<polygon points="1556.3,636 1578.3,658 1556.3,680 1534.3,658" fill="#fff"/><clipPath id="m76"><polygon points="1556.3,636 1578.3,658 1556.3,680 1534.3,658"/></clipPath><rect x="1516.3" y="623" width="41.5" height="70" fill="#66a61e" clip-path="url(#m76)"/><polygon points="1556.3,636 1578.3,658 1556.3,680 1534.3,658" fill="none" stroke="#66a61e" stroke-width="3" stroke-linejoin="round"/>
<polygon points="1657,684 1679,706 1657,728 1635,706" fill="#fff"/><clipPath id="m77"><polygon points="1657,684 1679,706 1657,728 1635,706"/></clipPath><rect x="1617" y="671" width="41.5" height="70" fill="#66a61e" clip-path="url(#m77)"/><polygon points="1657,684 1679,706 1657,728 1635,706" fill="none" stroke="#66a61e" stroke-width="3" stroke-linejoin="round"/>
<polygon points="1758.4,657 1780.4,679 1758.4,701 1736.4,679" fill="#fff"/><clipPath id="m78"><polygon points="1758.4,657 1780.4,679 1758.4,701 1736.4,679"/></clipPath><rect x="1718.4" y="644" width="41.5" height="70" fill="#66a61e" clip-path="url(#m78)"/><polygon points="1758.4,657 1780.4,679 1758.4,701 1736.4,679" fill="none" stroke="#66a61e" stroke-width="3" stroke-linejoin="round"/>
<path d="M246,61.2C249.8,61.4 264.4,61.9 271,62.7C277.6,63.5 284.8,65.4 290,66.3C295.2,67.2 301.2,67.8 306,68.8C310.8,69.8 316,70.7 322,73C328,75.3 339.5,81.6 346.3,84.2C353.1,86.8 362.9,88.7 367.4,90.3C371.9,91.9 372.3,93 376.2,94.7C380.1,96.4 388.4,99.3 393.6,101.4C398.8,103.5 402.9,107.1 411,108.8C419.1,110.5 436.9,110.8 447.3,112.4C457.7,114 471.5,118.3 480,119.5C488.5,120.7 497.4,120.2 504,120.4C510.6,120.6 517.4,120.8 524,121C530.6,121.2 538.8,119.9 548.1,121.5C557.4,123.1 576.6,128.7 586.2,131.8C595.8,134.9 605.4,138.9 612.3,142.2C619.2,145.5 626.3,150.7 632,154C637.7,157.3 645.6,161.8 650.2,164.4C654.8,167 656.6,168.7 662.7,171C668.8,173.3 682.8,176.2 690.9,179.5C699,182.8 710.1,188.1 717,192.7C723.9,197.3 731.6,205.2 736.7,210C741.8,214.8 746.8,220.1 751.3,224.4C755.8,228.7 762.7,235.7 766.7,238.9C770.7,242.1 774.2,243.9 778.2,245.8C782.2,247.8 788.8,250.6 793.4,251.9C798,253.2 804.7,253.6 808.7,254.2C812.7,254.8 817.3,255 820.2,255.7C823.1,256.4 823.1,257 827.8,258.8C832.4,260.6 844.2,263.7 851.2,267.5C858.2,271.3 868,278.9 874.7,283.9C881.4,288.8 889.6,295.7 896,300.5C902.4,305.3 911.9,312.1 917.2,315.7C922.5,319.3 926.1,321.3 931.4,324.6C936.6,327.9 946.5,333.5 952.2,337.5C957.9,341.5 965,347.1 969.1,351.3C973.2,355.5 977.2,360.1 979.7,365.4C982.2,370.7 983.9,379.2 985.6,386.7C987.3,394.2 989.3,406.6 991,415.1C992.7,423.6 994.7,434.9 996.7,443.4C998.7,451.9 1002.2,465.4 1004.5,471.8C1006.8,478.2 1009.1,482 1011.7,485.9C1014.3,489.8 1017.8,496.1 1022,497.5C1026.2,498.9 1035.3,496.4 1040,495.5C1044.7,494.6 1049.2,492.4 1053,491.5C1056.8,490.6 1060.7,489.4 1065.5,489.7C1070.3,490 1079.7,491.4 1084.7,493.3C1089.7,495.2 1094.7,499.3 1098.9,502.5C1103.1,505.7 1108.8,510.3 1113,514.6C1117.2,518.9 1123.4,526.3 1127.2,530.9C1131,535.5 1134.6,541.2 1138.5,545C1142.4,548.8 1147.5,552.1 1152.9,556C1158.3,559.9 1169.1,568.9 1174.2,570.9C1179.3,572.9 1183.6,570.3 1186.8,569.1C1190,567.9 1190.9,564.9 1195.4,563.1C1199.9,561.3 1211.4,557.9 1216.7,557.4C1222,556.9 1227.1,557.9 1230.9,559.5C1234.7,561.1 1238.8,563.5 1242.2,568C1245.6,572.5 1248.1,579.1 1253.8,589.7C1259.5,600.3 1274.4,628.7 1280.2,638.9C1286,649.1 1288.5,652.2 1292.7,657.7C1296.9,663.2 1303.2,670.6 1307.9,675.3C1312.6,680 1317,686.7 1324.1,689.1C1331.2,691.5 1348.6,691.4 1355,691.5C1361.4,691.6 1362.9,688.9 1367,690C1371.1,691.1 1379.1,696.5 1382.5,699C1385.9,701.5 1386.4,703.8 1389.6,707C1392.8,710.2 1400.6,716.8 1403.8,720.3C1407,723.8 1407.7,727 1410.9,730C1414.1,733 1421.9,737.9 1425.1,740C1428.3,742.1 1427.4,741.1 1432.1,744C1436.8,746.9 1449.2,751.5 1456.7,759.4C1464.2,767.3 1474.9,790.1 1481.8,796.4C1488.7,802.7 1496.6,800.4 1503,801.4C1509.4,802.4 1516.2,802 1524.3,802.8C1532.4,803.6 1548.4,805.9 1557.2,806.5C1566,807.1 1576.5,808 1582.9,807.1C1589.3,806.2 1592.5,802.6 1600.1,800.8C1607.7,799 1628.4,795.9 1633.4,795" fill="none" stroke="#e6ab02" stroke-width="7.7" stroke-linejoin="round" stroke-linecap="round"/>
<polygon points="219,61.2 257,39.5 257,83" fill="#fff"/><clipPath id="m79"><polygon points="219,61.2 257,39.5 257,83"/></clipPath><rect x="206" y="26.2" width="41.5" height="70" fill="#e6ab02" clip-path="url(#m79)"/><polygon points="219,61.2 257,39.5 257,83" fill="none" stroke="#e6ab02" stroke-width="3" stroke-linejoin="round"/>
<polygon points="319.3,84.2 357.3,62.5 357.3,106" fill="#fff"/><clipPath id="m80"><polygon points="319.3,84.2 357.3,62.5 357.3,106"/></clipPath><rect x="306.3" y="49.2" width="41.5" height="70" fill="#e6ab02" clip-path="url(#m80)"/><polygon points="319.3,84.2 357.3,62.5 357.3,106" fill="none" stroke="#e6ab02" stroke-width="3" stroke-linejoin="round"/>
<polygon points="420.3,112.4 458.3,90.7 458.3,134.2" fill="#fff"/><clipPath id="m81"><polygon points="420.3,112.4 458.3,90.7 458.3,134.2"/></clipPath><rect x="407.3" y="77.4" width="41.5" height="70" fill="#e6ab02" clip-path="url(#m81)"/><polygon points="420.3,112.4 458.3,90.7 458.3,134.2" fill="none" stroke="#e6ab02" stroke-width="3" stroke-linejoin="round"/>
<polygon points="521.1,121.5 559.1,99.8 559.1,143.2" fill="#fff"/><clipPath id="m82"><polygon points="521.1,121.5 559.1,99.8 559.1,143.2"/></clipPath><rect x="508.1" y="86.5" width="41.5" height="70" fill="#e6ab02" clip-path="url(#m82)"/><polygon points="521.1,121.5 559.1,99.8 559.1,143.2" fill="none" stroke="#e6ab02" stroke-width="3" stroke-linejoin="round"/>
<polygon points="623.2,164.4 661.2,142.7 661.2,186.2" fill="#fff"/><clipPath id="m83"><polygon points="623.2,164.4 661.2,142.7 661.2,186.2"/></clipPath><rect x="610.2" y="129.4" width="41.5" height="70" fill="#e6ab02" clip-path="url(#m83)"/><polygon points="623.2,164.4 661.2,142.7 661.2,186.2" fill="none" stroke="#e6ab02" stroke-width="3" stroke-linejoin="round"/>
<polygon points="724.3,224.4 762.3,202.7 762.3,246.2" fill="#fff"/><clipPath id="m84"><polygon points="724.3,224.4 762.3,202.7 762.3,246.2"/></clipPath><rect x="711.3" y="189.4" width="41.5" height="70" fill="#e6ab02" clip-path="url(#m84)"/><polygon points="724.3,224.4 762.3,202.7 762.3,246.2" fill="none" stroke="#e6ab02" stroke-width="3" stroke-linejoin="round"/>
<polygon points="824.2,267.5 862.2,245.8 862.2,289.2" fill="#fff"/><clipPath id="m85"><polygon points="824.2,267.5 862.2,245.8 862.2,289.2"/></clipPath><rect x="811.2" y="232.5" width="41.5" height="70" fill="#e6ab02" clip-path="url(#m85)"/><polygon points="824.2,267.5 862.2,245.8 862.2,289.2" fill="none" stroke="#e6ab02" stroke-width="3" stroke-linejoin="round"/>
<polygon points="925.2,337.5 963.2,315.8 963.2,359.2" fill="#fff"/><clipPath id="m86"><polygon points="925.2,337.5 963.2,315.8 963.2,359.2"/></clipPath><rect x="912.2" y="302.5" width="41.5" height="70" fill="#e6ab02" clip-path="url(#m86)"/><polygon points="925.2,337.5 963.2,315.8 963.2,359.2" fill="none" stroke="#e6ab02" stroke-width="3" stroke-linejoin="round"/>
<polygon points="1026,491.5 1064,469.8 1064,513.2" fill="#fff"/><clipPath id="m87"><polygon points="1026,491.5 1064,469.8 1064,513.2"/></clipPath><rect x="1013" y="456.5" width="41.5" height="70" fill="#e6ab02" clip-path="url(#m87)"/><polygon points="1026,491.5 1064,469.8 1064,513.2" fill="none" stroke="#e6ab02" stroke-width="3" stroke-linejoin="round"/>
<polygon points="1125.9,556 1163.9,534.2 1163.9,577.8" fill="#fff"/><clipPath id="m88"><polygon points="1125.9,556 1163.9,534.2 1163.9,577.8"/></clipPath><rect x="1112.9" y="521" width="41.5" height="70" fill="#e6ab02" clip-path="url(#m88)"/><polygon points="1125.9,556 1163.9,534.2 1163.9,577.8" fill="none" stroke="#e6ab02" stroke-width="3" stroke-linejoin="round"/>
<polygon points="1226.8,589.7 1264.8,568 1264.8,611.5" fill="#fff"/><clipPath id="m89"><polygon points="1226.8,589.7 1264.8,568 1264.8,611.5"/></clipPath><rect x="1213.8" y="554.7" width="41.5" height="70" fill="#e6ab02" clip-path="url(#m89)"/><polygon points="1226.8,589.7 1264.8,568 1264.8,611.5" fill="none" stroke="#e6ab02" stroke-width="3" stroke-linejoin="round"/>
<polygon points="1328,691.5 1366,669.8 1366,713.2" fill="#fff"/><clipPath id="m90"><polygon points="1328,691.5 1366,669.8 1366,713.2"/></clipPath><rect x="1315" y="656.5" width="41.5" height="70" fill="#e6ab02" clip-path="url(#m90)"/><polygon points="1328,691.5 1366,669.8 1366,713.2" fill="none" stroke="#e6ab02" stroke-width="3" stroke-linejoin="round"/>
<polygon points="1429.7,759.4 1467.7,737.6 1467.7,781.1" fill="#fff"/><clipPath id="m91"><polygon points="1429.7,759.4 1467.7,737.6 1467.7,781.1"/></clipPath><rect x="1416.7" y="724.4" width="41.5" height="70" fill="#e6ab02" clip-path="url(#m91)"/><polygon points="1429.7,759.4 1467.7,737.6 1467.7,781.1" fill="none" stroke="#e6ab02" stroke-width="3" stroke-linejoin="round"/>
<polygon points="1530.2,806.5 1568.2,784.8 1568.2,828.2" fill="#fff"/><clipPath id="m92"><polygon points="1530.2,806.5 1568.2,784.8 1568.2,828.2"/></clipPath><rect x="1517.2" y="771.5" width="41.5" height="70" fill="#e6ab02" clip-path="url(#m92)"/><polygon points="1530.2,806.5 1568.2,784.8 1568.2,828.2" fill="none" stroke="#e6ab02" stroke-width="3" stroke-linejoin="round"/>
<polygon points="1606.4,795 1644.4,773.2 1644.4,816.8" fill="#fff"/><clipPath id="m93"><polygon points="1606.4,795 1644.4,773.2 1644.4,816.8"/></clipPath><rect x="1593.4" y="760" width="41.5" height="70" fill="#e6ab02" clip-path="url(#m93)"/><polygon points="1606.4,795 1644.4,773.2 1644.4,816.8" fill="none" stroke="#e6ab02" stroke-width="3" stroke-linejoin="round"/>
</g>
<g stroke="#000" stroke-width="3" fill="none">
<rect x="245.5" y="60.5" width="1517" height="1064"/>
<path d="M498.3,1124.5V1110M498.3,60.5V75M751.2,1124.5V1110M751.2,60.5V75M1004,1124.5V1110M1004,60.5V75M1256.8,1124.5V1110M1256.8,60.5V75M1509.7,1124.5V1110M1509.7,60.5V75M245.5,364.5H260M1762.5,364.5H1748M245.5,668.5H260M1762.5,668.5H1748M245.5,972.5H260M1762.5,972.5H1748"/>
</g>
<g font-size="97">
<text x="245.5" y="1213.6" font-size="97" text-anchor="middle">0</text>
<text x="498.3" y="1213.6" font-size="97" text-anchor="middle">5</text>
<text transform="translate(728.3,1213.6) scale(0.7,1)" x="-25.6" y="0" font-size="97">1</text><text x="751.2" y="1213.6" font-size="97">0</text>
<text transform="translate(981.1,1213.6) scale(0.7,1)" x="-25.6" y="0" font-size="97">1</text><text x="1004" y="1213.6" font-size="97">5</text>
<text x="1256.8" y="1213.6" font-size="97" text-anchor="middle">20</text>
<text x="1509.7" y="1213.6" font-size="97" text-anchor="middle">25</text>
<text x="1762.5" y="1213.6" font-size="97" text-anchor="middle">30</text>
<text x="229.8" y="89.6" text-anchor="end">0</text>
<text x="126.5" y="392.2" font-size="97">−</text><text transform="translate(206.8,392.2) scale(0.7,1)" x="-25.6" y="0" font-size="97">1</text>
<text x="126.5" y="695.8" font-size="97" text-anchor="start">−2</text>
<text x="126.5" y="1000.5" font-size="97" text-anchor="start">−3</text>
</g>
<text x="1005.5" y="1362.6" font-size="96" text-anchor="middle" textLength="393.5" lengthAdjust="spacing">Time (ms)</text>
<text transform="translate(98.8,593.5) rotate(-90)" x="0" y="0" font-size="96" text-anchor="middle">Impact force (kN)</text>
<path d="M358,459.5H422M465,459.5H530" stroke="#1b9e77" stroke-width="8" stroke-linecap="round" fill="none"/>
<polygon points="428,443 459.6,443 459.6,474.6 428,474.6" fill="#fff"/><clipPath id="m94"><polygon points="428,443 459.6,443 459.6,474.6 428,474.6"/></clipPath><rect x="403.8" y="423.8" width="41.5" height="70" fill="#1b9e77" clip-path="url(#m94)"/><polygon points="428,443 459.6,443 459.6,474.6 428,474.6" fill="none" stroke="#1b9e77" stroke-width="3" stroke-linejoin="round"/>
<text transform="translate(549.7,485) scale(0.89,1)" x="0" y="0" font-size="80.5">#1</text>
<path d="M358,555.1H422M465,555.1H530" stroke="#d95f02" stroke-width="8" stroke-linecap="round" fill="none"/>
<circle cx="443.8" cy="553.5" r="17" fill="#fff"/><clipPath id="m95"><circle cx="443.8" cy="553.5" r="17"/></clipPath><rect x="403.8" y="518.5" width="41.5" height="70" fill="#d95f02" clip-path="url(#m95)"/><circle cx="443.8" cy="553.5" r="17" fill="none" stroke="#d95f02" stroke-width="3" stroke-linejoin="round"/>
<text transform="translate(549.7,580.6) scale(0.89,1)" x="0" y="0" font-size="80.5">#2</text>
<path d="M358,650.7H422M465,650.7H530" stroke="#7570b3" stroke-width="8" stroke-linecap="round" fill="none"/>
<polygon points="443.8,626.2 464.8,661.1 422.8,661.1" fill="#fff"/><clipPath id="m96"><polygon points="443.8,626.2 464.8,661.1 422.8,661.1"/></clipPath><rect x="403.8" y="615.7" width="41.5" height="70" fill="#7570b3" clip-path="url(#m96)"/><polygon points="443.8,626.2 464.8,661.1 422.8,661.1" fill="none" stroke="#7570b3" stroke-width="3" stroke-linejoin="round"/>
<text transform="translate(549.7,676.2) scale(0.89,1)" x="0" y="0" font-size="80.5">#3</text>
<path d="M358,746.3H422M465,746.3H530" stroke="#e7298a" stroke-width="8" stroke-linecap="round" fill="none"/>
<polygon points="443.8,770.7 422.8,734.7 464.8,734.7" fill="#fff"/><clipPath id="m97"><polygon points="443.8,770.7 422.8,734.7 464.8,734.7"/></clipPath><rect x="403.8" y="711.3" width="41.5" height="70" fill="#e7298a" clip-path="url(#m97)"/><polygon points="443.8,770.7 422.8,734.7 464.8,734.7" fill="none" stroke="#e7298a" stroke-width="3" stroke-linejoin="round"/>
<text transform="translate(549.7,771.8) scale(0.89,1)" x="0" y="0" font-size="80.5">#4</text>
<path d="M358,841.9H422M465,841.9H530" stroke="#66a61e" stroke-width="8" stroke-linecap="round" fill="none"/>
<polygon points="443.8,817.2 465.5,838.9 443.8,860.6 422.1,838.9" fill="#fff"/><clipPath id="m98"><polygon points="443.8,817.2 465.5,838.9 443.8,860.6 422.1,838.9"/></clipPath><rect x="403.8" y="803.9" width="41.5" height="70" fill="#66a61e" clip-path="url(#m98)"/><polygon points="443.8,817.2 465.5,838.9 443.8,860.6 422.1,838.9" fill="none" stroke="#66a61e" stroke-width="3" stroke-linejoin="round"/>
<text transform="translate(549.7,867.4) scale(0.89,1)" x="0" y="0" font-size="80.5">#5</text>
<path d="M358,937.5H422M465,937.5H530" stroke="#e6ab02" stroke-width="8" stroke-linecap="round" fill="none"/>
<polygon points="419.2,934 454.3,913 454.3,955" fill="#fff"/><clipPath id="m99"><polygon points="419.2,934 454.3,913 454.3,955"/></clipPath><rect x="403.8" y="902.5" width="41.5" height="70" fill="#e6ab02" clip-path="url(#m99)"/><polygon points="419.2,934 454.3,913 454.3,955" fill="none" stroke="#e6ab02" stroke-width="3" stroke-linejoin="round"/>
<text transform="translate(549.7,963) scale(0.89,1)" x="0" y="0" font-size="80.5">#6</text>
</svg></body></html>
